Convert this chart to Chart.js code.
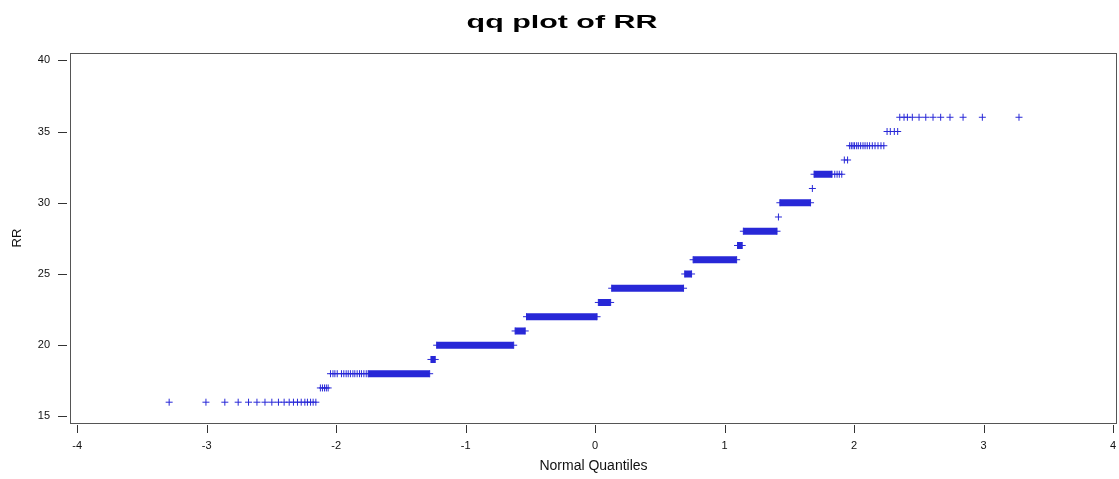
<!DOCTYPE html>
<html>
<head>
<meta charset="utf-8">
<title>qq plot of RR</title>
<script src="https://cdn.jsdelivr.net/npm/chart.js@4/dist/chart.umd.min.js"></script>
<style>
  html, body { margin: 0; padding: 0; background: #fff; }
  #wrap { width: 1119px; height: 479px; }
</style>
</head>
<body>
<div id="wrap"><canvas id="QQChart" width="1119" height="479"></canvas></div>
<script>
// ================= Data =================
const chartTitle = 'qq plot of RR';
const xTitle = 'Normal Quantiles';
const yTitle = 'RR';
const xTicks = [-4, -3, -2, -1, 0, 1, 2, 3, 4];
const yTicks = [15, 20, 25, 30, 35, 40];

// single points (sparse tails + loose steps): normal quantile / RR value
const pointQ = [
  -3.290, -3.006, -2.860, -2.757, -2.677, -2.612, -2.550, -2.497, -2.446, -2.402,
  -2.363, -2.330, -2.299, -2.270, -2.242, -2.222, -2.198, -2.178, -2.157,
  -2.122, -2.106, -2.090, -2.076, -2.062,
  -2.044, -2.025, -2.010, -1.992, -1.959, -1.941, -1.923, -1.907, -1.890, -1.871,
  -1.856, -1.838, -1.820, -1.805, -1.786, -1.768,
  1.416,
  1.678,
  1.851, 1.869, 1.886, 1.905,
  1.925, 1.950,
  1.966, 1.979, 1.992, 2.004, 2.020, 2.033, 2.051, 2.069, 2.085, 2.102,
  2.120, 2.141, 2.162, 2.185, 2.208, 2.230,
  2.255, 2.280, 2.311, 2.337,
  2.353, 2.386, 2.412, 2.450, 2.502, 2.554, 2.610, 2.669, 2.741, 2.842, 2.991, 3.274
];
const pointRR = [
  16, 16, 16, 16, 16, 16, 16, 16, 16, 16,
  16, 16, 16, 16, 16, 16, 16, 16, 16,
  17, 17, 17, 17, 17,
  18, 18, 18, 18, 18, 18, 18, 18, 18, 18,
  18, 18, 18, 18, 18, 18,
  29,
  31,
  32, 32, 32, 32,
  33, 33,
  34, 34, 34, 34, 34, 34, 34, 34, 34, 34,
  34, 34, 34, 34, 34, 34,
  35, 35, 35, 35,
  36, 36, 36, 36, 36, 36, 36, 36, 36, 36, 36, 36
];

// dense steps: every value between first and last quantile is packed solid
const runRR     = [18,     19,     20,     21,     22,     23,    24,    25,    26,    27,    28,    30,    32];
const runFromQ  = [-1.753, -1.268, -1.224, -0.618, -0.530, 0.025, 0.128, 0.692, 0.757, 1.100, 1.145, 1.427, 1.691];
const runToQ    = [-1.278, -1.235, -0.629, -0.540, 0.015,  0.120, 0.683, 0.745, 1.093, 1.136, 1.405, 1.664, 1.830];

const markColor = 'rgb(40, 40, 215)';
const fontFamily = '"Liberation Sans", Arial, Helvetica, sans-serif';

// ================= Frame + title =================
const framePlugin = {
  id: 'frame',
  beforeDatasetsDraw(chart) {
    const { ctx, chartArea: a, scales: { x, y } } = chart;
    ctx.save();
    ctx.strokeStyle = '#555';
    ctx.lineWidth = 1;
    ctx.strokeRect(a.left + 0.5, a.top + 0.5, a.right - a.left - 1, a.bottom - a.top);

    // tick marks sit a little outside the box
    ctx.strokeStyle = '#333';
    ctx.beginPath();
    x.ticks.forEach(t => {
      const px = Math.round(x.getPixelForValue(t.value)) + 0.5;
      ctx.moveTo(px, a.bottom + 2);
      ctx.lineTo(px, a.bottom + 10);
    });
    y.ticks.forEach(t => {
      const py = Math.round(y.getPixelForValue(t.value)) + 0.5;
      ctx.moveTo(a.left - 12, py);
      ctx.lineTo(a.left - 3, py);
    });
    ctx.stroke();

    // wide bold heading
    ctx.font = 'bold 19px ' + fontFamily;
    ctx.fillStyle = '#000';
    ctx.textAlign = 'center';
    ctx.textBaseline = 'alphabetic';
    ctx.translate(562, 28);
    ctx.scale(1.6, 1);
    ctx.fillText(chartTitle, 0, 0);
    ctx.restore();
  }
};

// ================= Chart =================
const points = pointQ.map((q, i) => ({ x: q, y: pointRR[i] }));

const runs = [];
runRR.forEach((rr, i) => {
  runs.push({ x: runFromQ[i], y: rr }, { x: runToQ[i], y: rr }, { x: runToQ[i], y: null });
});

const ctx = document.getElementById('QQChart').getContext('2d');
new Chart(ctx, {
  type: 'scatter',
  data: {
    datasets: [
      {
        label: 'runs',
        data: runs,
        showLine: true,
        spanGaps: false,
        borderColor: markColor,
        borderWidth: 7,
        borderCapStyle: 'butt',
        pointStyle: 'cross',
        pointRadius: 3.5,
        pointBorderWidth: 1,
        pointBorderColor: markColor,
        pointBackgroundColor: markColor
      },
      {
        label: 'RR',
        data: points,
        pointStyle: 'cross',
        pointRadius: 3.5,
        pointBorderWidth: 1,
        pointBorderColor: markColor,
        pointBackgroundColor: markColor
      }
    ]
  },
  options: {
    responsive: false,
    animation: false,
    layout: { autoPadding: false, padding: { top: 53, right: 2, bottom: 0, left: 0 } },
    plugins: {
      legend: { display: false },
      tooltip: { enabled: false },
      title: { display: false }
    },
    scales: {
      x: {
        type: 'linear',
        min: -4.056,
        max: 4.031,
        grid: { display: false, drawTicks: false },
        border: { display: false },
        afterBuildTicks: s => { s.ticks = xTicks.map(v => ({ value: v })); },
        afterFit: s => {
          s.height = 56;
          s.paddingLeft = 0;
          s.paddingRight = 0;
        },
        ticks: {
          padding: 16,
          color: '#111',
          font: { family: fontFamily, size: 11 },
          maxRotation: 0,
          callback: v => String(v)
        },
        title: {
          display: true,
          text: xTitle,
          color: '#111',
          font: { family: fontFamily, size: 14 },
          padding: { top: 0, bottom: 4 }
        }
      },
      y: {
        type: 'linear',
        min: 14.54,
        max: 40.51,
        grid: { display: false, drawTicks: false },
        border: { display: false },
        afterBuildTicks: s => { s.ticks = yTicks.map(v => ({ value: v })); },
        afterFit: s => {
          s.width = 70;
          s.paddingTop = 0;
          s.paddingBottom = 0;
        },
        ticks: {
          padding: 20,
          color: '#111',
          font: { family: fontFamily, size: 11 },
          callback: v => String(v)
        },
        title: {
          display: true,
          text: yTitle,
          color: '#111',
          font: { family: fontFamily, size: 13 },
          padding: { top: 10, bottom: 0 }
        }
      }
    }
  },
  plugins: [framePlugin]
});
</script>
</body>
</html>
